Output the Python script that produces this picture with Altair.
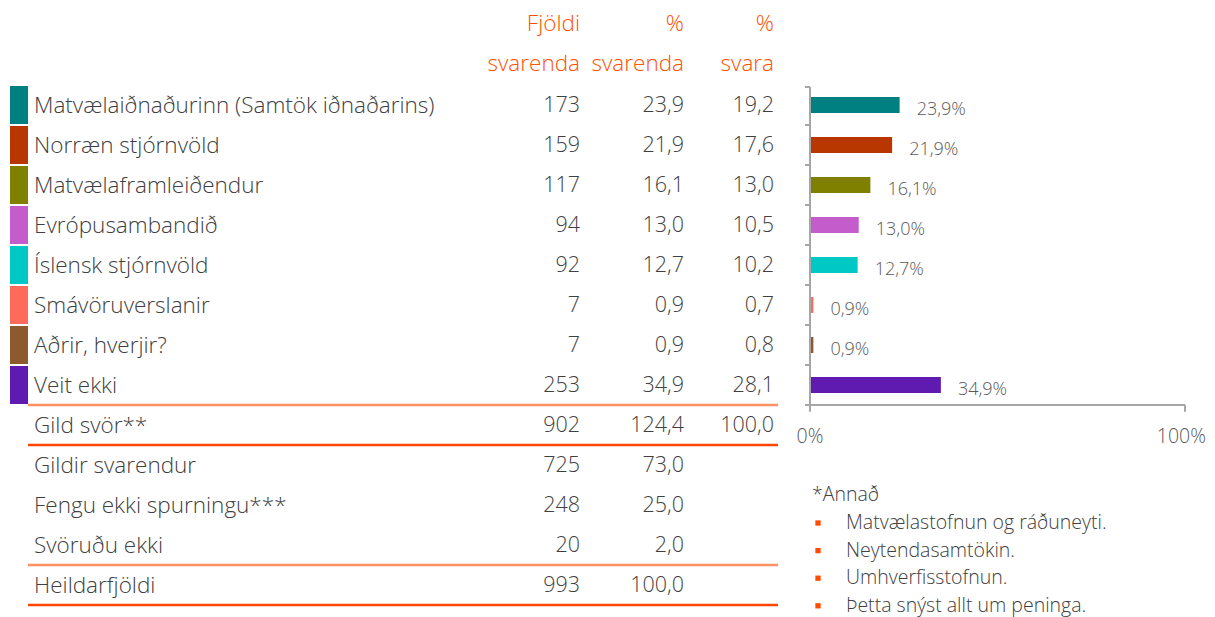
import altair as alt
import pandas as pd

# ---- data ----
categories = ["Matvælaiðnaðurinn (Samtök iðnaðarins)", "Norræn stjórnvöld", "Matvælaframleiðendur",
              "Evrópusambandið", "Íslensk stjórnvöld", "Smávöruverslanir", "Aðrir, hverjir?", "Veit ekki"]
cat_colors = ["#008080", "#B83700", "#808000", "#C45CCB", "#00C8C4", "#FF6B5B", "#8C5A2E", "#5F1BAF"]
counts = [173, 159, 117, 94, 92, 7, 7, 253]
pct_respondents = [23.9, 21.9, 16.1, 13.0, 12.7, 0.9, 0.9, 34.9]
pct_answers = [19.2, 17.6, 13.0, 10.5, 10.2, 0.7, 0.8, 28.1]

summary_labels = ["Gild svör**", "Gildir svarendur", "Fengu ekki spurningu***", "Svöruðu ekki", "Heildarfjöldi"]
summary_counts = [902, 725, 248, 20, 993]
summary_pct_resp = [124.4, 73.0, 25.0, 2.0, 100.0]
summary_pct_ans = [100.0, None, None, None, None]

header_line1 = ["Fjöldi", "%", "%"]
header_line2 = ["svarenda", "svarenda", "svara"]

axis_ticks = [0, 100]
axis_tick_labels = ["0%", "100%"]

note_title = "*Annað"
notes = ["Matvælastofnun  og ráðuneyti.", "Neytendasamtökin.", "Umhverfisstofnun.", "Þetta snýst allt um peninga."]


def fmt(v):
    return "" if v is None else f"{v:.1f}".replace(".", ",")


FONT = "Open Sans"
FW = 300
TEXT = "#404040"
ORANGE = "#FF5000"
AX = "#A6A6A6"

# ---- tables ----
n_head = 2
rows = []
for i, h in enumerate([header_line1, header_line2]):
    rows.append(dict(r=i, label="", c1=h[0], c2=h[1], c3=h[2], head=1))
for i, c in enumerate(categories):
    rows.append(dict(r=n_head + i, label=c, c1=str(counts[i]), c2=fmt(pct_respondents[i]),
                     c3=fmt(pct_answers[i]), head=0))
for j, s in enumerate(summary_labels):
    rows.append(dict(r=n_head + len(categories) + j, label=s, c1=str(summary_counts[j]),
                     c2=fmt(summary_pct_resp[j]), c3=fmt(summary_pct_ans[j]), head=0))
table = pd.DataFrame(rows)
n_rows = len(rows)

first_cat = n_head
last_cat = n_head + len(categories) - 1

bars = pd.DataFrame(dict(r=[n_head + i for i in range(len(categories))], cat=categories,
                         v=pct_respondents))
bars["lab"] = [fmt(v) + "%" for v in pct_respondents]

sep = pd.DataFrame(dict(r=[last_cat + 0.5, last_cat + 1.5, n_rows - 1.5, n_rows - 0.5],
                        kind=["light", "dark", "light", "dark"]))

band_edges = pd.DataFrame(dict(r=[first_cat - 0.5 + k for k in range(len(categories) + 1)]))
ticks_df = pd.DataFrame(dict(v=axis_ticks, lab=axis_tick_labels))
note_df = pd.DataFrame(dict(i=list(range(len(notes))), t=notes))
note_head_df = pd.DataFrame(dict(t=[note_title]))

# ---- scales (40 px per row) ----
H = 609
W = 1199
ys = alt.Scale(domain=[-0.425, -0.425 + H / 40], reverse=True, nice=False, zero=False)
xs = alt.Scale(domain=[0, 100], range=[802, 1177], nice=False, zero=False)


def Y(f):
    return alt.Y(f, type="quantitative", scale=ys, axis=None)


def X(f):
    return alt.X(f, type="quantitative", scale=xs, axis=None)


body = alt.Chart(table).transform_filter("datum.head == 0")
head = alt.Chart(table).transform_filter("datum.head == 1")

TS = 22.5
labels = body.mark_text(align="left", baseline="middle", color=TEXT, font=FONT, fontSize=TS,
                        fontWeight=FW, dy=1).encode(x=alt.value(26), y=Y("r"), text="label:N")

col_layers = []
for field, xpos in [("c1", 572), ("c2", 676), ("c3", 766)]:
    col_layers.append(body.mark_text(align="right", baseline="middle", color=TEXT, font=FONT,
                                     fontSize=21.5, fontWeight=FW, dy=1).encode(
        x=alt.value(xpos), y=Y("r"), text=f"{field}:N"))
    col_layers.append(head.mark_text(align="right", baseline="middle", color=ORANGE, font=FONT,
                                     fontSize=TS, fontWeight=FW, dy=-1).encode(
        x=alt.value(xpos), y=Y("r"), text=f"{field}:N"))

color = alt.Color("cat:N", scale=alt.Scale(domain=categories, range=cat_colors), legend=None)

boxes = alt.Chart(bars).transform_calculate(y0="datum.r - 0.475", y1="datum.r + 0.475").mark_rect().encode(
    x=alt.value(2), x2=alt.value(20), y=Y("y0"), y2="y1:Q", color=color)

sep_light = alt.Chart(sep).transform_filter("datum.kind == 'light'").mark_rule(
    color="#FF9163", strokeWidth=2.5).encode(x=alt.value(20), x2=alt.value(770), y=Y("r"))
sep_dark = alt.Chart(sep).transform_filter("datum.kind == 'dark'").mark_rule(
    color="#FF4500", strokeWidth=2.5).encode(x=alt.value(20), x2=alt.value(770), y=Y("r"))

bar_rects = alt.Chart(bars).transform_calculate(
    y0="datum.r - 0.2", y1="datum.r + 0.2", z="0").mark_rect().encode(
    x=X("z"), x2="v:Q", y=Y("y0"), y2="y1:Q", color=color)

bar_labels = alt.Chart(bars).mark_text(align="left", baseline="middle", dx=17, dy=5, font=FONT,
                                       fontSize=18, fontWeight=FW, color="#595959").encode(
    x=X("v"), y=Y("r"), text="lab:N")

ax_top = first_cat - 0.45
ax_base = last_cat + 0.5
ax_low = last_cat + 0.67

vaxis = alt.Chart(ticks_df).transform_filter("datum.v == 0").transform_calculate(
    y0=str(ax_top), y1=str(ax_low)).mark_rule(color=AX, strokeWidth=2).encode(
    x=X("v"), y=Y("y0"), y2="y1:Q")
end_tick = alt.Chart(ticks_df).transform_filter("datum.v == 100").transform_calculate(
    y0=str(ax_base), y1=str(ax_low)).mark_rule(color=AX, strokeWidth=2).encode(
    x=X("v"), y=Y("y0"), y2="y1:Q")
haxis = alt.Chart(ticks_df).transform_filter("datum.v == 0").transform_calculate(
    yb=str(ax_base), vmax="100").mark_rule(color=AX, strokeWidth=2).encode(
    x=X("v"), x2="vmax:Q", y=Y("yb"))
ytick = alt.Chart(band_edges).transform_calculate(rr="max(datum.r, %s)" % ax_top).mark_rule(
    color=AX, strokeWidth=2).encode(x=alt.value(797), x2=alt.value(802), y=Y("rr"))

tick_txt = dict(baseline="middle", font=FONT, fontSize=19.5, fontWeight=FW, color="#595959")
tick_label_first = alt.Chart(ticks_df).transform_filter("datum.v == 0").transform_calculate(
    yl=str(last_cat + 1.3)).mark_text(align="center", **tick_txt).encode(
    x=X("v"), y=Y("yl"), text="lab:N")
tick_label_last = alt.Chart(ticks_df).transform_filter("datum.v == 100").transform_calculate(
    yl=str(last_cat + 1.3)).mark_text(align="right", dx=21, **tick_txt).encode(
    x=X("v"), y=Y("yl"), text="lab:N")

NS = 19.5
note_head = alt.Chart(note_head_df).transform_calculate(ny="11.75").mark_text(
    align="left", baseline="middle", font=FONT, fontSize=NS, fontWeight=FW, color=TEXT).encode(
    x=alt.value(804), y=Y("ny"), text="t:N")
note_text = alt.Chart(note_df).transform_calculate(ny="12.45 + 0.69 * datum.i").mark_text(
    align="left", baseline="middle", font=FONT, fontSize=NS, fontWeight=FW, color=TEXT).encode(
    x=alt.value(838), y=Y("ny"), text="t:N")
note_bullets = alt.Chart(note_df).transform_calculate(ny="12.45 + 0.69 * datum.i").mark_square(
    color="#FF4A00", size=28, opacity=1).encode(x=alt.value(810), y=Y("ny"))

chart = alt.layer(
    boxes, sep_light, sep_dark, labels, *col_layers,
    bar_rects, vaxis, end_tick, haxis, ytick, bar_labels, tick_label_first, tick_label_last,
    note_head, note_bullets, note_text
).properties(width=W, height=H, padding=0, autosize="none").configure_view(stroke=None)

chart.save("out.html", embed_options={"renderer": "svg", "actions": False})
